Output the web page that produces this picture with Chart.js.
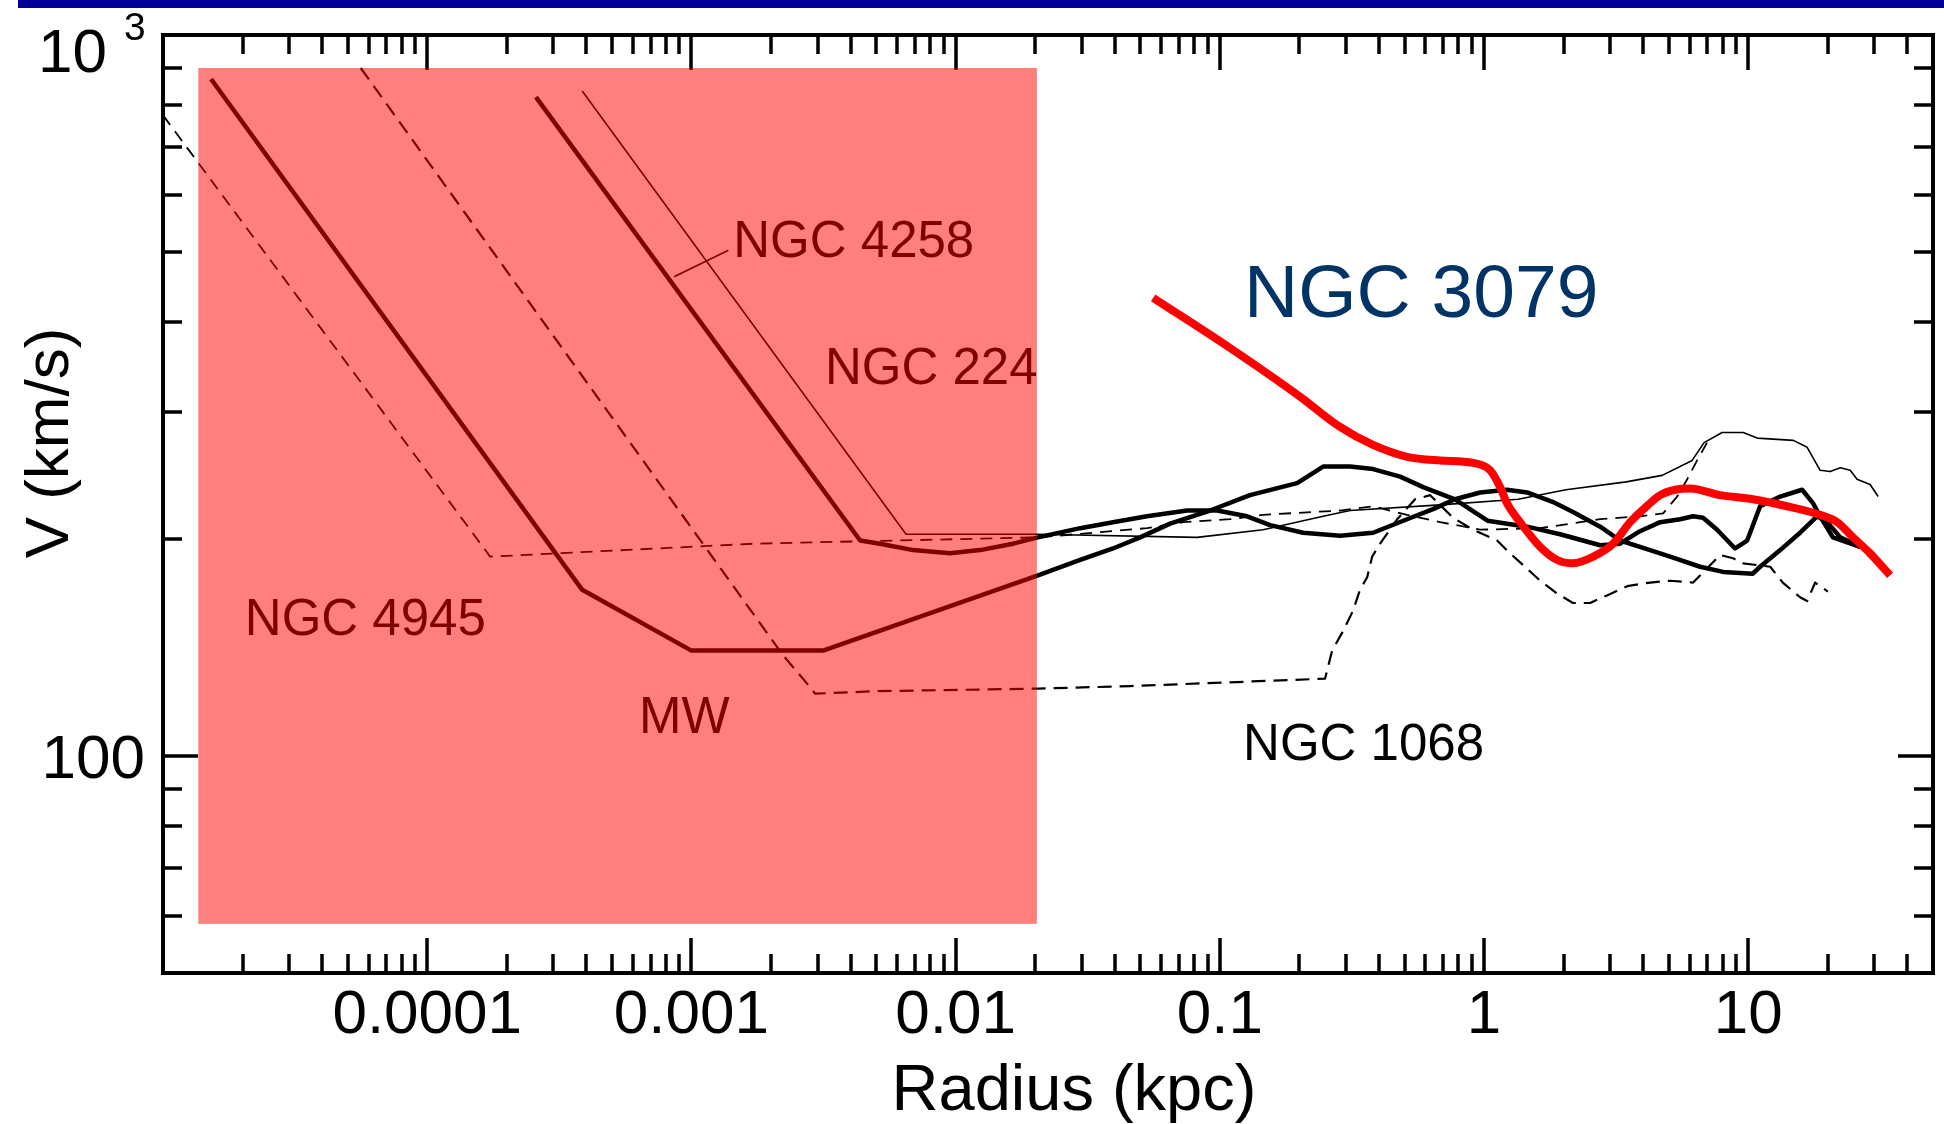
<!DOCTYPE html>
<html>
<head>
<meta charset="utf-8">
<script src="https://cdn.jsdelivr.net/npm/chart.js@4.4.1/dist/chart.umd.min.js"></script>
<style>
html,body{margin:0;padding:0;background:#fff;}
#wrap{position:relative;width:1944px;height:1124px;overflow:hidden;}
#bar{position:absolute;left:18px;top:0;width:1926px;height:8px;background:#000096;}
canvas{position:absolute;left:0;top:0;}
</style>
</head>
<body>
<div id="wrap"><canvas id="c" width="1944" height="1124"></canvas><div id="bar"></div></div>
<script>
// ---------- axis ranges and tick labels ----------
const xRange = [1e-5, 50];
const yRange = [50, 1000];
const xTickValues = [1e-4, 1e-3, 1e-2, 1e-1, 1, 10];
const xTickLabels = ['0.0001', '0.001', '0.01', '0.1', '1', '10'];
const yTickValues = [100, 1000];
const yTickLabels = ['100', '10^3'];
const xTitle = 'Radius (kpc)';
const yTitle = 'V (km/s)';

// ---------- rotation curves (radius kpc, velocity km/s) ----------
const mwR = [1.52e-5, 3.86e-4, 1.0e-3, 3.15e-3, 0.0205, 0.0296, 0.0394, 0.0499, 0.0648, 0.0918, 0.130, 0.196, 0.246, 0.311, 0.380, 0.481, 0.588, 0.776, 1.03, 1.455, 1.94, 2.75, 3.27, 3.89, 4.64, 5.52, 6.18, 6.74, 7.62, 8.91, 9.90, 11.08, 13.2, 15.98, 17.6, 18.7, 20.9, 26.5];
const mwV = [869, 170, 140, 140, 178, 187, 194, 201, 210, 219, 230, 239, 252, 252, 250, 244, 236, 227, 212, 208, 203, 196, 197, 205, 211, 213, 215, 214, 206, 194, 199, 222, 229, 234, 224, 215, 201, 195];

const n4258R = [2.58e-4, 4.35e-3, 5.17e-3, 6.90e-3, 9.52e-3, 0.01237, 0.0165, 0.0205, 0.0296, 0.0394, 0.0530, 0.0751, 0.0976, 0.1267, 0.155, 0.2065, 0.285, 0.380, 0.511, 0.641, 0.776, 0.966, 1.222, 1.455, 1.825, 2.17, 2.75, 3.27, 3.89, 5.06, 6.57, 8.03, 10.4, 11.08, 13.2, 15.7, 18.2, 19.9, 22.3, 26.5];
const n4258V = [820, 199, 197, 193, 191, 193, 197, 201, 207, 211, 215, 219, 219, 215, 209, 204, 202, 204, 213, 220, 227, 232, 234, 232, 225, 218, 208, 199, 195, 189, 183, 180, 179, 183, 193, 204, 215, 211, 201, 195];

const n224R = [3.86e-4, 6.49e-3, 0.0205, 0.0820, 0.1457, 0.246, 0.311, 0.682, 1.345, 2.04, 3.45, 4.72, 6.13, 6.80, 7.96, 9.56, 10.8, 14.8, 16.7, 18.7, 20.4, 22.3, 24.3, 25.8, 28.9, 31.0];
const n224V = [836, 203, 203, 201, 206, 215, 219, 223, 227, 234, 240, 245, 257, 272, 281, 281, 276, 274, 268, 249, 248, 251, 249, 242, 238, 229];

const n4945R = [1.0e-5, 1.73e-4, 1.73e-3, 0.0205, 0.0530, 0.0726, 0.1093, 0.1457, 0.285, 0.380, 0.511, 0.682, 0.966, 1.63, 2.75, 3.89, 4.76, 5.38, 5.87, 6.40, 6.98];
const n4945V = [774, 189, 197, 201, 207, 211, 213, 216, 219, 222, 216, 211, 206, 207, 213, 215, 217, 229, 242, 257, 272];

const n1068R = [5.6e-5, 2.22e-3, 2.74e-3, 2.94e-3, 5.04e-3, 0.0205, 0.0457, 0.250, 0.266, 0.2925, 0.319, 0.339, 0.361, 0.377, 0.404, 0.469, 0.548, 0.625, 0.763, 0.909, 1.12, 1.254, 1.405, 1.63, 1.89, 2.17, 2.52, 2.92, 3.48, 4.25, 5.06, 6.18, 7.82, 8.76, 9.56, 12.1, 13.5, 15.7, 16.7, 17.9, 20.0];
const n1068V = [900, 138, 126, 122, 123, 124, 125, 128, 140, 149, 159, 170, 177, 189, 197, 213, 227, 230, 214, 206, 199, 191, 184, 175, 168, 163, 163, 167, 172, 174, 175, 174, 190, 188, 185, 183, 174, 166, 164, 174, 169];

const n3079R = [0.0559, 0.1093, 0.2012, 0.285, 0.380, 0.511, 0.682, 0.909, 1.054, 1.15, 1.222, 1.369, 1.63, 1.89, 2.17, 2.59, 3.08, 3.57, 4.07, 4.64, 5.28, 6.02, 7.82, 10.4, 14.0, 18.7, 21.7, 24.9, 28.9, 34.4];
const n3079V = [432, 368, 315, 286, 270, 260, 257, 255, 249, 236, 224, 211, 195, 187, 185, 189, 197, 211, 221, 230, 234, 235, 230, 227, 222, 216, 211, 201, 191, 178];

// leader line for the NGC 4258 label
const leaderR = [8.6e-4, 1.38e-3];
const leaderV = [462, 503];

// highlighted (shaded) region, in data units
const shadeR = [1.36e-5, 0.0203];
const shadeV = [58.5, 900];

// curve labels, anchored in data units (left edge, baseline)
const labelTexts = ['NGC 4258', 'NGC 224', 'NGC 4945', 'MW', 'NGC 1068'];
const labelR = [1.44e-3, 3.2e-3, 2.04e-5, 6.33e-4, 0.1224];
const labelV = [492, 328, 147.2, 107.6, 98.7];
const mainLabel = 'NGC 3079';
const mainLabelR = 0.1235;
const mainLabelV = 406;

// ---------- helpers ----------
const pts = (R, V) => R.map((r, i) => ({x: r, y: V[i]}));
const FONT = "'Liberation Sans', Arial, Helvetica, sans-serif";

function logTicks(min, max) {
  const out = [];
  for (let d = Math.floor(Math.log10(min)); d <= Math.ceil(Math.log10(max)); d++) {
    for (let m = 1; m <= 9; m++) {
      const v = m * Math.pow(10, d);
      if (v >= min * 0.999 && v <= max * 1.001) out.push({v, major: m === 1});
    }
  }
  return out;
}

const framePlugin = {
  id: 'framePlugin',
  beforeDatasetsDraw(chart) {
    const {ctx, chartArea: a, scales: {x, y}} = chart;
    ctx.save();
    ctx.strokeStyle = '#000';
    ctx.lineCap = 'butt';
    ctx.lineWidth = 3.5;
    ctx.beginPath();
    for (const t of logTicks(xRange[0], xRange[1])) {
      const px = Math.round(x.getPixelForValue(t.v));
      if (px <= a.left + 2 || px >= a.right - 2) continue;
      const len = t.major ? 35 : 19;
      ctx.moveTo(px, a.bottom); ctx.lineTo(px, a.bottom - len);
      ctx.moveTo(px, a.top); ctx.lineTo(px, a.top + len);
    }
    for (const t of logTicks(yRange[0], yRange[1])) {
      const py = Math.round(y.getPixelForValue(t.v));
      if (py <= a.top + 2 || py >= a.bottom - 2) continue;
      const len = t.major ? 35 : 19;
      ctx.moveTo(a.left, py); ctx.lineTo(a.left + len, py);
      ctx.moveTo(a.right, py); ctx.lineTo(a.right - len, py);
    }
    ctx.stroke();
    ctx.lineWidth = 4;
    ctx.strokeRect(a.left, a.top, a.right - a.left, a.bottom - a.top);
    ctx.restore();
  },
  afterDatasetsDraw(chart) {
    const {ctx, chartArea: a, scales: {x, y}} = chart;
    ctx.save();
    // curve labels (black, tinted by the shade where covered)
    ctx.fillStyle = '#000';
    ctx.textAlign = 'left';
    ctx.textBaseline = 'alphabetic';
    ctx.font = '51px ' + FONT;
    labelTexts.forEach((t, i) => {
      ctx.fillText(t, x.getPixelForValue(labelR[i]), y.getPixelForValue(labelV[i]));
    });
    // semi-transparent red shade
    const x0 = x.getPixelForValue(shadeR[0]), x1 = x.getPixelForValue(shadeR[1]);
    const y0 = y.getPixelForValue(shadeV[1]), y1 = y.getPixelForValue(shadeV[0]);
    ctx.fillStyle = 'rgba(255,0,0,0.5)';
    ctx.fillRect(x0, y0, x1 - x0, y1 - y0);
    // highlighted galaxy label
    ctx.fillStyle = '#003366';
    ctx.font = '75px ' + FONT;
    ctx.fillText(mainLabel, x.getPixelForValue(mainLabelR), y.getPixelForValue(mainLabelV));
    ctx.restore();
  },
  afterDraw(chart) {
    const {ctx, chartArea: a, scales: {x, y}} = chart;
    ctx.save();
    ctx.fillStyle = '#000';
    // x tick labels
    ctx.font = '62px ' + FONT;
    ctx.textAlign = 'center';
    ctx.textBaseline = 'alphabetic';
    xTickValues.forEach((v, i) => {
      ctx.fillText(xTickLabels[i], x.getPixelForValue(v), a.bottom + 60);
    });
    // y tick labels
    yTickValues.forEach((v, i) => {
      const py = y.getPixelForValue(v);
      const lab = yTickLabels[i];
      if (lab.indexOf('^') >= 0) {
        const [base, exp] = lab.split('^');
        ctx.font = '62px ' + FONT;
        ctx.textAlign = 'right';
        ctx.fillText(base, a.left - 56, py + 37);
        ctx.font = '39px ' + FONT;
        ctx.textAlign = 'left';
        ctx.fillText(exp, a.left - 39, py + 5);
      } else {
        ctx.font = '62px ' + FONT;
        ctx.textAlign = 'right';
        ctx.fillText(lab, a.left - 18, py + 22);
      }
    });
    // axis titles
    ctx.font = '65px ' + FONT;
    ctx.textAlign = 'center';
    ctx.fillText(xTitle, (a.left + a.right) / 2 + 26, a.bottom + 137);
    ctx.translate(a.left - 112, (a.top + a.bottom) / 2 - 61);
    ctx.rotate(-Math.PI / 2);
    ctx.font = '62px ' + FONT;
    ctx.textBaseline = 'middle';
    ctx.fillText(yTitle, 0, 0);
    ctx.restore();
  }
};

const blackLine = (label, R, V, width, dash) => ({
  label, data: pts(R, V), showLine: true, borderColor: '#000', borderWidth: width,
  borderDash: dash || [], pointRadius: 0, tension: 0, fill: false, borderCapStyle: 'butt', borderJoinStyle: 'round'
});

new Chart(document.getElementById('c'), {
  type: 'scatter',
  data: {
    datasets: [
      {label: 'NGC 3079', data: pts(n3079R, n3079V), showLine: true, borderColor: '#ff0000', borderWidth: 8,
       pointRadius: 0, cubicInterpolationMode: 'monotone', fill: false, borderCapStyle: 'butt', borderJoinStyle: 'round'},
      blackLine('MW', mwR, mwV, 4.5),
      blackLine('NGC 4258', n4258R, n4258V, 4.5),
      blackLine('NGC 224', n224R, n224V, 1.6),
      blackLine('NGC 4945', n4945R, n4945V, 1.8, [12, 8]),
      blackLine('NGC 1068', n1068R, n1068V, 2.2, [14, 8]),
      blackLine('leader', leaderR, leaderV, 1.6)
    ]
  },
  options: {
    responsive: false,
    devicePixelRatio: 1,
    animation: false,
    layout: {padding: {left: 163, top: 35, right: 11, bottom: 151}},
    plugins: {legend: {display: false}, tooltip: {enabled: false}, title: {display: false}},
    scales: {
      x: {type: 'logarithmic', min: xRange[0], max: xRange[1], display: false},
      y: {type: 'logarithmic', min: yRange[0], max: yRange[1], display: false}
    }
  },
  plugins: [framePlugin]
});
</script>
</body>
</html>
